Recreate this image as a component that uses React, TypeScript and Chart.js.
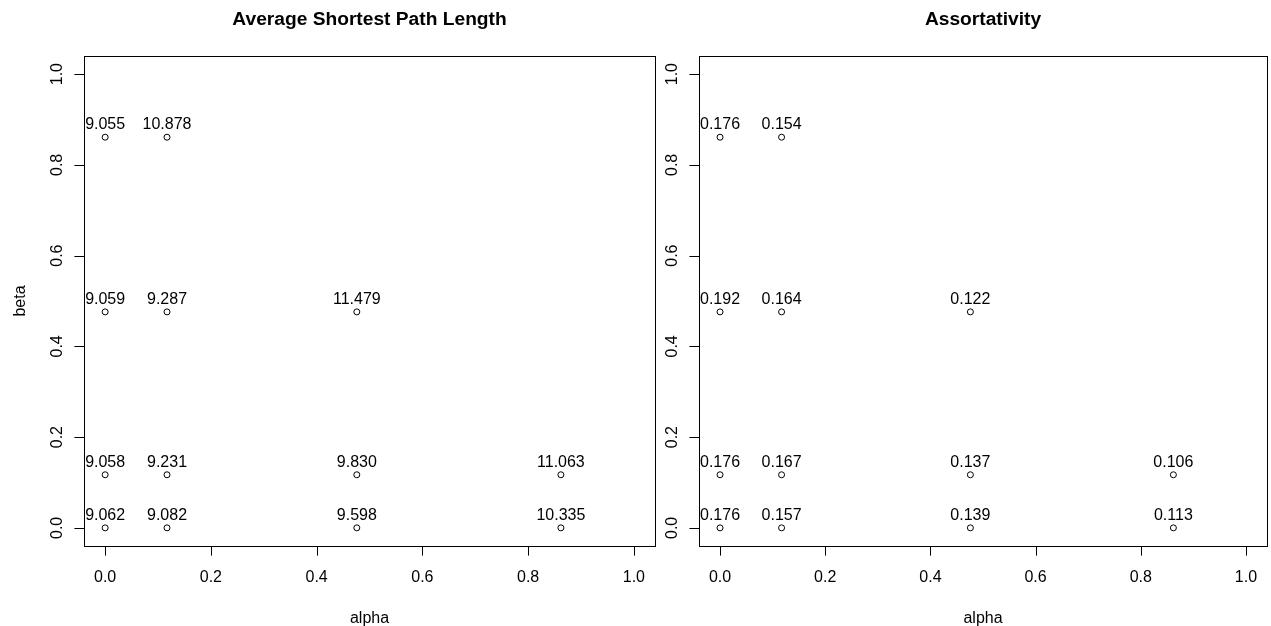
import React, { useEffect, useRef } from "react";
import { Chart, registerables } from "chart.js";

Chart.register(...registerables);

// ---- data ----
const pointAlpha = [0, 0.117, 0, 0.117, 0.476, 0, 0.117, 0.476, 0.862, 0, 0.117, 0.476, 0.862];
const pointBeta = [0.861, 0.861, 0.476, 0.476, 0.476, 0.117, 0.117, 0.117, 0.117, 0, 0, 0, 0];
const pathLength = [9.055, 10.878, 9.059, 9.287, 11.479, 9.058, 9.231, 9.83, 11.063, 9.062, 9.082, 9.598, 10.335];
const assortativity = [0.176, 0.154, 0.192, 0.164, 0.122, 0.176, 0.167, 0.137, 0.106, 0.176, 0.157, 0.139, 0.113];
const tickValues = [0, 0.2, 0.4, 0.6, 0.8, 1.0];
const tickLabels = ["0.0", "0.2", "0.4", "0.6", "0.8", "1.0"];
const titles = ["Average Shortest Path Length", "Assortativity"];
const xTitle = "alpha";
const yTitle = "beta";

const FONT = '"Liberation Sans", Arial, Helvetica, sans-serif';

function makePlugin(values: number[], title: string, showYTitle: boolean) {
  return {
    id: "rbase",
    afterDraw(chart: any) {
      const { ctx, chartArea: a } = chart;
      const x = chart.scales.x;
      const y = chart.scales.y;
      ctx.save();
      ctx.strokeStyle = "#000";
      ctx.fillStyle = "#000";
      ctx.lineWidth = 1;
      // box
      ctx.strokeRect(a.left + 0.5, a.top + 0.5, a.right - a.left, a.bottom - a.top);
      // ticks
      ctx.beginPath();
      tickValues.forEach((t) => {
        const px = Math.round(x.getPixelForValue(t)) + 0.5;
        ctx.moveTo(px, a.bottom);
        ctx.lineTo(px, a.bottom + 9.6);
        const py = Math.round(y.getPixelForValue(t)) + 0.5;
        ctx.moveTo(a.left, py);
        ctx.lineTo(a.left - 9.6, py);
      });
      ctx.stroke();
      ctx.font = "16px " + FONT;
      ctx.textAlign = "center";
      ctx.textBaseline = "alphabetic";
      tickValues.forEach((t, i) => {
        const px = x.getPixelForValue(t);
        ctx.fillText(tickLabels[i], px, a.bottom + 36);
        const py = y.getPixelForValue(t);
        ctx.save();
        ctx.translate(a.left - 22, py);
        ctx.rotate(-Math.PI / 2);
        ctx.fillText(tickLabels[i], 0, 0);
        ctx.restore();
      });
      // axis titles
      ctx.fillText(xTitle, (a.left + a.right) / 2, a.bottom + 77);
      if (showYTitle) {
        ctx.save();
        ctx.translate(25, (a.top + a.bottom) / 2);
        ctx.rotate(-Math.PI / 2);
        ctx.fillText(yTitle, 0, 0);
        ctx.restore();
      }
      // point labels
      const meta = chart.getDatasetMeta(0);
      meta.data.forEach((el: any, i: number) => {
        ctx.fillText(values[i].toFixed(3), el.x, el.y - 8);
      });
      // main title
      ctx.font = "bold 19.2px " + FONT;
      ctx.fillText(title, (a.left + a.right) / 2, 25);
      ctx.restore();
    },
  };
}

function Panel(props: {
  values: number[];
  title: string;
  showYTitle: boolean;
  left: number;
  width: number;
  pad: { left: number; right: number; top: number; bottom: number };
}) {
  const ref = useRef<HTMLCanvasElement | null>(null);
  useEffect(() => {
    if (!ref.current) return;
    const chart = new Chart(ref.current, {
      type: "scatter",
      data: {
        datasets: [
          {
            data: pointAlpha.map((a, i) => ({ x: a, y: pointBeta[i] })),
            pointRadius: 3,
            pointHoverRadius: 3,
            pointBorderWidth: 1,
            borderColor: "#000",
            backgroundColor: "rgba(0,0,0,0)",
            showLine: false,
          },
        ],
      },
      options: {
        animation: false,
        responsive: false,
        events: [],
        layout: { padding: props.pad },
        plugins: { legend: { display: false }, tooltip: { enabled: false }, title: { display: false } },
        scales: {
          x: { type: "linear", min: -0.04, max: 1.04, display: false },
          y: { type: "linear", min: -0.04, max: 1.04, display: false },
        },
      },
      plugins: [makePlugin(props.values, props.title, props.showYTitle)],
    } as any);
    return () => chart.destroy();
  }, []);
  return (
    <canvas
      ref={ref}
      width={props.width}
      height={626}
      style={{ position: "absolute", left: props.left, top: 0, width: props.width, height: 626 }}
    />
  );
}

export default function App() {
  return (
    <div style={{ position: "absolute", left: 0, top: 0, width: 1271, height: 626, background: "#fff", overflow: "hidden" }}>
      <Panel
        values={pathLength}
        title={titles[0]}
        showYTitle={true}
        left={0}
        width={660}
        pad={{ left: 84, right: 5, top: 56, bottom: 80 }}
      />
      <Panel
        values={assortativity}
        title={titles[1]}
        showYTitle={false}
        left={660}
        width={611}
        pad={{ left: 39, right: 0, top: 56, bottom: 80 }}
      />
    </div>
  );
}
